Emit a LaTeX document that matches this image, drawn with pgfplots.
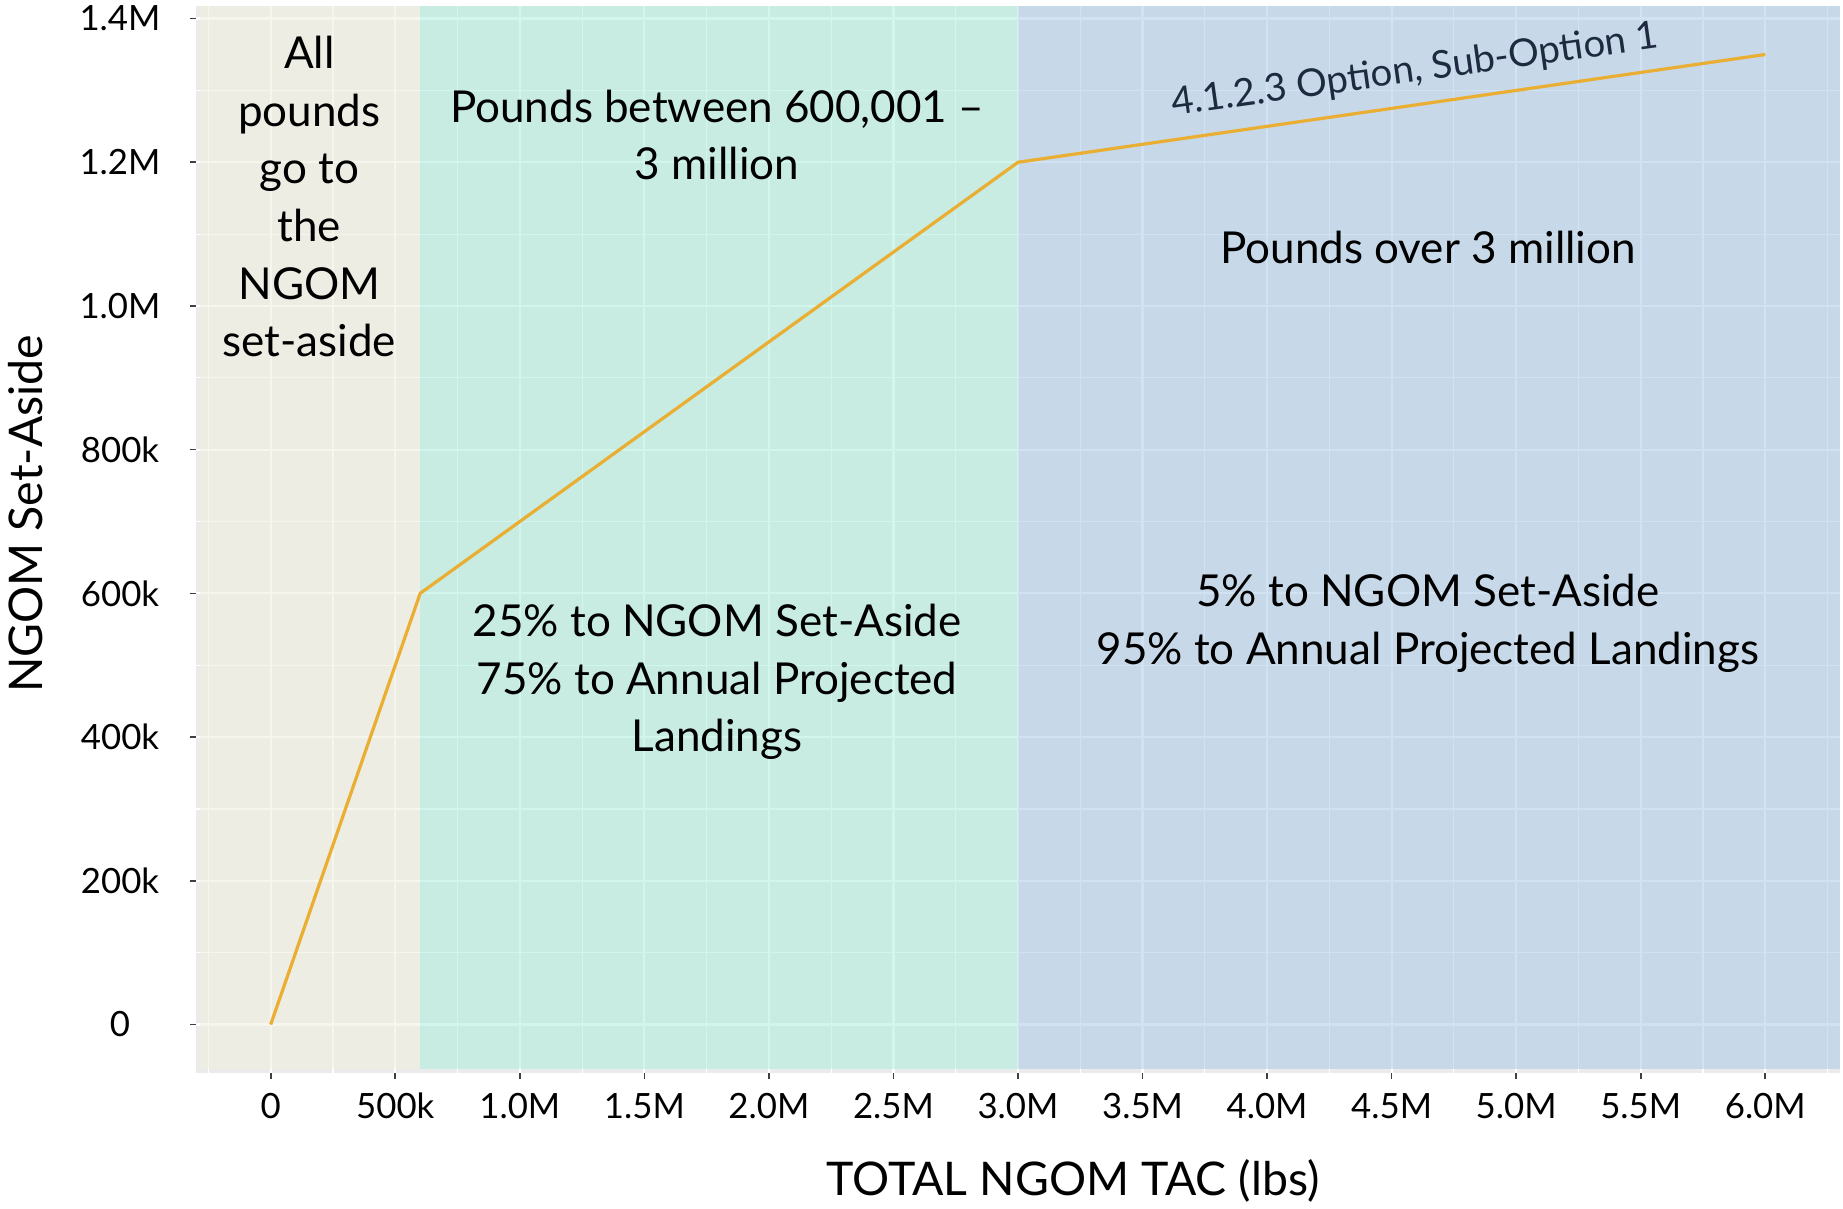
\documentclass[border=0pt]{standalone}
\usepackage{pgfplots}
\pgfplotsset{compat=1.18}
\usepackage{fontspec}
\setmainfont{Lato}
\usetikzlibrary{calc}

\definecolor{panelgrey}{HTML}{EBEBEB}
\definecolor{zoneA}{HTML}{EFEFDF}
\definecolor{zoneB}{HTML}{A7EDDB}
\definecolor{zoneC}{HTML}{A5C9E9}
\definecolor{trend}{HTML}{E9AE32}
\definecolor{navy}{HTML}{1E2A3F}

% breakpoints of the set-aside rule
\pgfplotstableread{
tac     setaside
0       0
600000  600000
3000000 1200000
6000000 1350000
}\setaside

\begin{document}
\begin{tikzpicture}
\begin{axis}[
  scale only axis,
  width=411bp, height=266.75bp,
  xmin=-300000, xmax=6300000,
  ymin=-67500, ymax=1417500,
  scaled ticks=false,
  axis background/.style={fill=panelgrey},
  axis line style={draw=none},
  xtick={0,500000,...,6000000},
  xticklabels={0,500k,1.0M,1.5M,2.0M,2.5M,3.0M,3.5M,4.0M,4.5M,5.0M,5.5M,6.0M},
  ytick={0,200000,...,1400000},
  yticklabels={0,200k,400k,600k,800k,1.0M,1.2M,1.4M},
  minor xtick={-250000,250000,...,6250000},
  minor ytick={100000,300000,...,1300000},
  grid=both,
  major grid style={white, line width=0.55bp},
  minor grid style={white, line width=0.28bp},
  xtick pos=bottom, ytick pos=left,
  tick align=outside,
  major tick length=1.5bp, minor tick length=0pt,
  tick style={black!75, line width=0.4bp},
  ticklabel style={font=\fontsize{8.7bp}{10bp}\selectfont},
  xticklabel style={anchor=center, yshift=-6.75bp},
  yticklabel style={anchor=center, xshift=-17.5bp},
  xlabel={TOTAL NGOM TAC (lbs)},
  ylabel={NGOM Set-Aside},
  label style={font=\fontsize{11.6bp}{13bp}\selectfont},
  xlabel style={at={(rel axis cs:0.5335,0)}, anchor=center, yshift=-27bp},
  ylabel style={at={(rel axis cs:0,0.524)}, anchor=center, yshift=42.5bp},
  clip=false,
]
% shaded zones of the rule
\addplot[draw=none, fill=zoneA, fill opacity=0.5] coordinates
  {(-285000,-62000) (600000,-62000) (600000,1417500) (-285000,1417500)} --cycle;
\addplot[draw=none, fill=zoneB, fill opacity=0.5] coordinates
  {(600000,-62000) (3000000,-62000) (3000000,1417500) (600000,1417500)} --cycle;
\addplot[draw=none, fill=zoneC, fill opacity=0.5] coordinates
  {(3000000,-62000) (6300000,-62000) (6300000,1417500) (3000000,1417500)} --cycle;

% set-aside curve
\addplot[trend, line width=0.8bp] table[x=tac, y=setaside] {\setaside};

% zone annotations
\begin{scope}[every node/.style={font=\fontsize{11bp}{14.4bp}\selectfont, align=center}]
\node at (axis cs:155000,1152000) {All\\pounds\\go to\\the\\NGOM\\set-aside};
\node at (axis cs:1792000,1238000) {Pounds between 600,001 --\\3 million};
\node at (axis cs:4646000,1081000) {Pounds over 3 million};
\node at (axis cs:1792000,476700) {25\% to NGOM Set-Aside\\75\% to Annual Projected\\Landings};
\node at (axis cs:4646000,558500) {5\% to NGOM Set-Aside\\95\% to Annual Projected Landings};
\end{scope}
\node[navy, rotate=8, font=\fontsize{9.6bp}{11bp}\selectfont] at (axis cs:4594000,1327000) {4.1.2.3 Option, Sub-Option 1};

\coordinate (sw) at (rel axis cs:0,0);
\end{axis}
\pgfresetboundingbox
\path[use as bounding box] ($(sw)+(-49bp,-34bp)$) rectangle ++(460.75bp,302.25bp);
\end{tikzpicture}
\end{document}
